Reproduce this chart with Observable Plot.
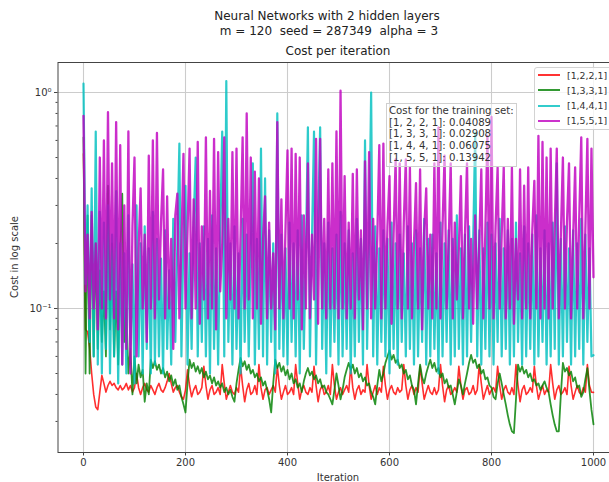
<!DOCTYPE html>
<html>
<head>
<meta charset="utf-8">
<script src="https://cdn.jsdelivr.net/npm/d3@7"></script>
<script src="https://cdn.jsdelivr.net/npm/@observablehq/plot@0.6"></script>
<style>
  html, body { margin: 0; padding: 0; background: #fff; overflow: hidden; }
  #fig { position: relative; width: 609px; height: 482px; overflow: hidden;
         font-family: "DejaVu Sans", sans-serif; color: #333; }
  .abs { position: absolute; white-space: pre; }
  #chart { position: absolute; left: 0; top: 58px; width: 609px; height: 424px; overflow: hidden; }
  #chart svg { overflow: hidden; }
  #legend { left: 534px; top: 67px; width: 92px; height: 61px; border: 1px solid #d3d3d3;
            border-radius: 3px; background: rgba(255,255,255,0.8); }
  #costbox { left: 386px; top: 103px; padding: 1px 2px 2px 2px; border: 1px solid #cfcfcf;
             background: rgba(255,255,255,0.5); font-size: 10.2px; line-height: 11.7px; color: #333; }
</style>
</head>
<body>
<div id="fig">
  <div class="abs" style="left:0;top:9px;width:654px;text-align:center;font-size:12px;line-height:15px;color:#222">Neural Networks with 2 hidden layers
 m = 120  seed = 287349  alpha = 3</div>
  <div class="abs" style="left:0;top:43.5px;width:676px;text-align:center;font-size:12px;line-height:15px;color:#222">Cost per iteration</div>
  <div id="chart"></div>
  <div class="abs" id="ylabel" style="left:14px;top:257px;font-size:10px;transform:translate(-50%,-50%) rotate(-90deg)">Cost in log scale</div>
  <div class="abs" id="xlabel" style="left:338px;top:477px;font-size:10px;transform:translate(-50%,-50%)">Iteration</div>
  <div class="abs" id="costbox"></div>
  <div class="abs" id="legend"></div>
</div>
<script>
// Cost sampled every 4 iterations (iterations 0, 4, ..., 1000)
const step = 4;

const architectures = ["[1, 2, 2, 1]", "[1, 3, 3, 1]", "[1, 4, 4, 1]", "[1, 5, 5, 1]"];
const legendLabels = ["[1,2,2,1]", "[1,3,3,1]", "[1,4,4,1]", "[1,5,5,1]"];
const lineColors = ["#ff0000", "#008000", "#00bfbf", "#bf00bf"];
const lineWidths = [1.6, 1.8, 2.2, 2.3];

const xTicks = [0, 200, 400, 600, 800, 1000];
const yMajorTicks = [0.1, 1];
const yMajorLabels = ["10⁻¹", "10⁰"];
const yMinorTicks = [0.03, 0.04, 0.05, 0.06, 0.07, 0.08, 0.09, 0.2, 0.3, 0.4, 0.5, 0.6, 0.7, 0.8, 0.9];

const cost1221 = [
  0.52, 0.08, 0.078, 0.066, 0.05, 0.04, 0.035, 0.034, 0.041, 0.049,
  0.045, 0.041, 0.044, 0.046, 0.044, 0.045, 0.043, 0.042, 0.044, 0.042,
  0.043, 0.045, 0.042, 0.044, 0.041, 0.043, 0.05, 0.043, 0.04, 0.043,
  0.045, 0.042, 0.041, 0.044, 0.042, 0.04, 0.043, 0.045, 0.042, 0.041,
  0.043, 0.046, 0.05, 0.045, 0.041, 0.043, 0.044, 0.041, 0.039, 0.038,
  0.042, 0.052, 0.044, 0.039, 0.042, 0.044, 0.04, 0.041, 0.043, 0.054,
  0.044, 0.038, 0.042, 0.044, 0.04, 0.041, 0.043, 0.04, 0.055,
  0.045, 0.038, 0.041, 0.044, 0.041, 0.04, 0.043, 0.041, 0.054,
  0.044, 0.037, 0.042, 0.045, 0.04, 0.041, 0.044, 0.04, 0.055,
  0.043, 0.038, 0.042, 0.043, 0.04, 0.042, 0.044, 0.041, 0.054,
  0.044, 0.038, 0.041, 0.044, 0.04, 0.041, 0.043, 0.04, 0.055,
  0.045, 0.038, 0.042, 0.044, 0.041, 0.04, 0.043, 0.041, 0.054,
  0.044, 0.037, 0.042, 0.044, 0.04, 0.041, 0.044, 0.04, 0.055,
  0.044, 0.038, 0.041, 0.043, 0.04, 0.042, 0.044, 0.041, 0.054,
  0.043, 0.038, 0.042, 0.044, 0.04, 0.042, 0.041, 0.055,
  0.044, 0.038, 0.041, 0.044, 0.04, 0.043, 0.041, 0.054,
  0.044, 0.038, 0.042, 0.044, 0.041, 0.04, 0.043, 0.041, 0.042, 0.055,
  0.044, 0.038, 0.042, 0.044, 0.04, 0.043, 0.041, 0.054,
  0.045, 0.038, 0.041, 0.044, 0.041, 0.04, 0.043, 0.04, 0.042, 0.055,
  0.044, 0.037, 0.042, 0.044, 0.04, 0.041, 0.043, 0.041, 0.054,
  0.044, 0.038, 0.042, 0.043, 0.04, 0.041, 0.044, 0.04, 0.042, 0.055,
  0.045, 0.038, 0.041, 0.044, 0.04, 0.042, 0.043, 0.041, 0.054,
  0.044, 0.038, 0.042, 0.044, 0.041, 0.04, 0.043, 0.04, 0.055,
  0.044, 0.037, 0.042, 0.044, 0.04, 0.041, 0.043, 0.041, 0.054,
  0.044, 0.038, 0.041, 0.044, 0.04, 0.042, 0.041, 0.055,
  0.045, 0.038, 0.042, 0.044, 0.04, 0.041, 0.043, 0.04, 0.054,
  0.044, 0.038, 0.041, 0.044, 0.041, 0.04, 0.043, 0.041, 0.055,
  0.044, 0.041, 0.04089
];

const cost1331 = [
  0.62, 0.05, 0.27, 0.05, 0.27, 0.06, 0.2, 0.065, 0.15, 0.07,
  0.12, 0.06, 0.37, 0.08, 0.2, 0.06, 0.12, 0.055, 0.18, 0.34,
  0.07, 0.1, 0.05, 0.065, 0.04, 0.06, 0.045, 0.055, 0.048, 0.052,
  0.037, 0.045, 0.04, 0.058, 0.053, 0.057, 0.052, 0.055, 0.05, 0.053,
  0.048, 0.051, 0.046, 0.049, 0.044, 0.047, 0.042, 0.044, 0.039, 0.036,
  0.033, 0.045, 0.058, 0.053, 0.056, 0.051, 0.054, 0.05, 0.053, 0.048,
  0.051, 0.047, 0.049, 0.045, 0.048, 0.044, 0.046, 0.043, 0.045, 0.041,
  0.043, 0.04, 0.042, 0.039, 0.037, 0.045, 0.052, 0.059, 0.054, 0.057,
  0.052, 0.055, 0.05, 0.052, 0.048, 0.05, 0.046, 0.048, 0.044, 0.046,
  0.042, 0.038, 0.033, 0.045, 0.058, 0.053, 0.056, 0.051, 0.054, 0.049,
  0.052, 0.047, 0.05, 0.045, 0.047, 0.043, 0.045, 0.041, 0.046, 0.05,
  0.053, 0.049, 0.051, 0.047, 0.049, 0.045, 0.047, 0.043, 0.044, 0.041,
  0.04, 0.038, 0.036, 0.042, 0.05, 0.044, 0.038, 0.042, 0.048, 0.052,
  0.056, 0.052, 0.055, 0.05, 0.053, 0.048, 0.05, 0.046, 0.048, 0.044,
  0.045, 0.041, 0.039, 0.036, 0.044, 0.052, 0.046, 0.05, 0.056, 0.06,
  0.064, 0.058, 0.061, 0.056, 0.058, 0.053, 0.055, 0.05, 0.052, 0.047,
  0.049, 0.044, 0.042, 0.036, 0.045, 0.055, 0.048, 0.045, 0.05, 0.054,
  0.058, 0.053, 0.056, 0.051, 0.053, 0.048, 0.05, 0.045, 0.047, 0.043,
  0.044, 0.04, 0.036, 0.041, 0.047, 0.044, 0.04, 0.045, 0.05, 0.056,
  0.061, 0.056, 0.058, 0.053, 0.055, 0.05, 0.052, 0.047, 0.048, 0.044,
  0.043, 0.039, 0.038, 0.045, 0.05, 0.045, 0.04, 0.036, 0.032, 0.029,
  0.027, 0.0265, 0.038, 0.055, 0.051, 0.054, 0.05, 0.052, 0.048, 0.05,
  0.046, 0.047, 0.044, 0.045, 0.042, 0.044, 0.046, 0.043, 0.041, 0.036,
  0.032, 0.029, 0.027, 0.027, 0.04, 0.056, 0.051, 0.053, 0.049, 0.051,
  0.046, 0.048, 0.043, 0.044, 0.039, 0.041, 0.047, 0.053, 0.042, 0.034,
  0.02908
];

const cost1441 = [
  1.1, 0.13, 0.3, 0.07, 0.36, 0.06, 0.66, 0.055, 0.28, 0.05,
  0.25, 0.065, 0.3, 0.05, 0.22, 0.06, 0.35, 0.045, 0.2, 0.055,
  0.18, 0.05, 0.27, 0.065, 0.16, 0.045, 0.3, 0.06, 0.2, 0.05,
  0.24, 0.065, 0.19, 0.05, 0.28, 0.055, 0.21, 0.06, 0.17, 0.05,
  0.23, 0.065, 0.15, 0.055, 0.26, 0.07, 0.2, 0.58, 0.06, 0.22,
  0.37, 0.055, 0.18, 0.065, 0.25, 0.5, 0.06, 0.2, 0.07, 0.24,
  0.06, 0.21, 0.05, 0.27, 0.065, 0.19, 0.055, 0.23, 0.66, 0.06,
  1.13, 0.07, 0.2, 0.055, 0.24, 0.065, 0.18, 0.05, 0.26, 0.07,
  0.22, 0.06, 0.19, 0.47, 0.055, 0.21, 0.065, 0.55, 0.06, 0.4,
  0.055, 0.23, 0.07, 0.2, 0.05, 0.8, 0.065, 0.22, 0.06, 0.19,
  0.055, 0.25, 0.07, 0.2, 0.06, 0.23, 0.05, 0.27, 0.065, 0.18,
  0.69, 0.06, 0.21, 0.66, 0.055, 0.24, 0.69, 0.065, 0.2, 0.05,
  0.25, 0.06, 0.19, 0.07, 0.22, 0.055, 0.28, 0.06, 0.2, 0.065,
  0.23, 0.05, 0.18, 0.06, 0.26, 0.07, 0.21, 0.055, 0.6, 0.065,
  0.2, 1.0, 0.06, 0.24, 0.055, 0.19, 0.07, 0.23, 0.06, 0.21,
  0.05, 0.25, 0.065, 0.2, 0.055, 0.22, 0.07, 0.18, 0.06, 0.24,
  0.065, 0.2, 0.055, 0.23, 0.06, 0.19, 0.07, 0.26, 0.055, 0.21,
  0.06, 0.22, 0.065, 0.18, 0.05, 0.25, 0.06, 0.2, 0.07, 0.23,
  0.055, 0.21, 0.06, 0.27, 0.065, 0.19, 0.055, 0.22, 0.06, 0.24,
  0.07, 0.2, 0.65, 0.06, 0.23, 0.055, 0.19, 0.065, 0.25, 0.06,
  0.22, 0.055, 0.2, 0.07, 0.26, 0.06, 0.19, 0.065, 0.23, 0.055,
  0.21, 0.06, 0.25, 0.07, 0.18, 0.055, 0.24, 0.06, 0.2, 0.065,
  0.22, 0.055, 0.27, 0.06, 0.19, 0.07, 0.23, 0.055, 0.2, 0.06,
  0.25, 0.065, 0.47, 0.055, 0.21, 0.06, 0.24, 0.07, 0.19, 0.055,
  0.23, 0.06, 0.2, 0.065, 0.26, 0.055, 0.22, 0.07, 0.19, 0.06,
  0.06075
];

const cost1551 = [
  0.78, 0.12, 0.22, 0.09, 0.28, 0.1, 0.2, 0.08, 0.5, 0.1,
  0.6, 0.09, 0.81, 0.11, 0.47, 0.09, 0.73, 0.08, 0.57, 0.055,
  0.3, 0.065, 0.66, 0.05, 0.24, 0.5, 0.06, 0.19, 0.36, 0.1,
  0.22, 0.07, 0.51, 0.1, 0.6, 0.09, 0.65, 0.11, 0.25, 0.44,
  0.09, 0.33, 0.1, 0.21, 0.065, 0.27, 0.34, 0.09, 0.2, 0.52,
  0.1, 0.23, 0.55, 0.09, 0.32, 0.1, 0.59, 0.085, 0.24, 0.11,
  0.62, 0.09, 0.35, 0.1, 0.61, 0.08, 0.53, 0.12, 0.2, 0.62,
  0.09, 0.26, 0.11, 0.53, 0.1, 0.55, 0.09, 0.22, 0.62, 0.1,
  0.8, 0.11, 0.5, 0.09, 0.43, 0.1, 0.4, 0.085, 0.21, 0.33,
  0.09, 0.25, 0.1, 0.18, 0.08, 0.73, 0.1, 0.32, 0.09, 0.23,
  0.54, 0.1, 0.55, 0.09, 0.52, 0.11, 0.5, 0.08, 0.27, 0.1,
  0.47, 0.09, 0.22, 0.11, 0.61, 0.085, 0.61, 0.1, 0.26, 0.09,
  0.44, 0.1, 0.47, 0.1, 0.66, 0.09, 1.02, 0.1, 0.41, 0.09,
  0.25, 0.1, 0.42, 0.09, 0.44, 0.11, 0.23, 0.08, 0.48, 0.1,
  0.53, 0.09, 0.26, 0.1, 0.21, 0.57, 0.09, 0.58, 0.1, 0.24,
  0.41, 0.085, 0.22, 0.49, 0.1, 0.47, 0.09, 0.25, 0.49, 0.1,
  0.45, 0.09, 0.2, 0.38, 0.1, 0.44, 0.08, 0.23, 0.36, 0.1,
  0.22, 0.09, 0.47, 0.1, 0.69, 0.09, 0.24, 0.51, 0.1, 0.2,
  0.47, 0.09, 0.25, 0.11, 0.19, 0.41, 0.09, 0.22, 0.47, 0.1,
  0.21, 0.085, 0.27, 0.1, 0.2, 0.44, 0.09, 0.23, 0.63, 0.1,
  0.77, 0.09, 0.24, 0.45, 0.1, 0.22, 0.45, 0.09, 0.26, 0.1,
  0.45, 0.085, 0.21, 0.11, 0.44, 0.09, 0.37, 0.1, 0.45, 0.09,
  0.23, 0.39, 0.1, 0.63, 0.09, 0.59, 0.1, 0.5, 0.09, 0.55,
  0.1, 0.24, 0.55, 0.09, 0.22, 0.5, 0.1, 0.25, 0.47, 0.09,
  0.21, 0.45, 0.1, 0.26, 0.62, 0.09, 0.23, 0.61, 0.1, 0.55,
  0.13942
];

const costs = [cost1221, cost1331, cost1441, cost1551];

// one table per network: iteration and cost
const tables = costs.map(values => values.map((cost, k) => ({ iteration: k * step, cost })));

const chart = Plot.plot({
  width: 609,
  height: 424,
  marginTop: 4,
  marginBottom: 30,
  marginLeft: 57.5,
  marginRight: -9.5,
  style: { fontFamily: "DejaVu Sans, sans-serif", fontSize: "10px", color: "#333", background: "white" },
  x: { domain: [-50, 1050] },
  y: { type: "log", domain: [0.02154, 1.377] },
  marks: [
    Plot.gridX(xTicks, { stroke: "#cccccc", strokeOpacity: 1, strokeWidth: 1.1 }),
    Plot.gridY(yMajorTicks, { stroke: "#cccccc", strokeOpacity: 1, strokeWidth: 1.1 }),
    // drawn in legend order, so [1,5,5,1] ends up on top
    ...tables.map((t, i) => Plot.line(t, {
      x: "iteration", y: "cost",
      stroke: lineColors[i], strokeWidth: lineWidths[i], strokeOpacity: 0.82, curve: "linear"
    })),
    Plot.frame({ stroke: "#444", strokeWidth: 1 }),
    Plot.axisX(xTicks, { tickSize: 3.5, tickPadding: 3, label: null, stroke: "#444", tickFormat: d => String(d) }),
    Plot.axisY(yMajorTicks, {
      tickSize: 3.5, tickPadding: 3, label: null, stroke: "#444",
      tickFormat: d => yMajorLabels[yMajorTicks.indexOf(d)]
    }),
    Plot.axisY(yMinorTicks, { tickSize: 2, tickFormat: () => "", label: null, stroke: "#444" })
  ]
});
document.getElementById("chart").appendChild(chart);

// legend in the upper right of the axes
const legend = document.getElementById("legend");
legendLabels.forEach((label, i) => {
  const top = 7 + i * 15.3;
  const swatch = document.createElement("div");
  swatch.style.cssText = `position:absolute;left:3px;top:${top - 1}px;width:22px;height:2px;background:${lineColors[i]};opacity:0.8`;
  const text = document.createElement("div");
  text.textContent = label;
  text.style.cssText = `position:absolute;left:32px;top:${top - 6.5}px;font-size:9.4px;line-height:13px;white-space:pre;color:#333`;
  legend.appendChild(swatch);
  legend.appendChild(text);
});

// final training-set cost of each network
const box = document.getElementById("costbox");
box.textContent = ["Cost for the training set:"]
  .concat(architectures.map((a, i) => `${a}: ${costs[i][costs[i].length - 1].toFixed(5)}`))
  .join("\n");
</script>
</body>
</html>
